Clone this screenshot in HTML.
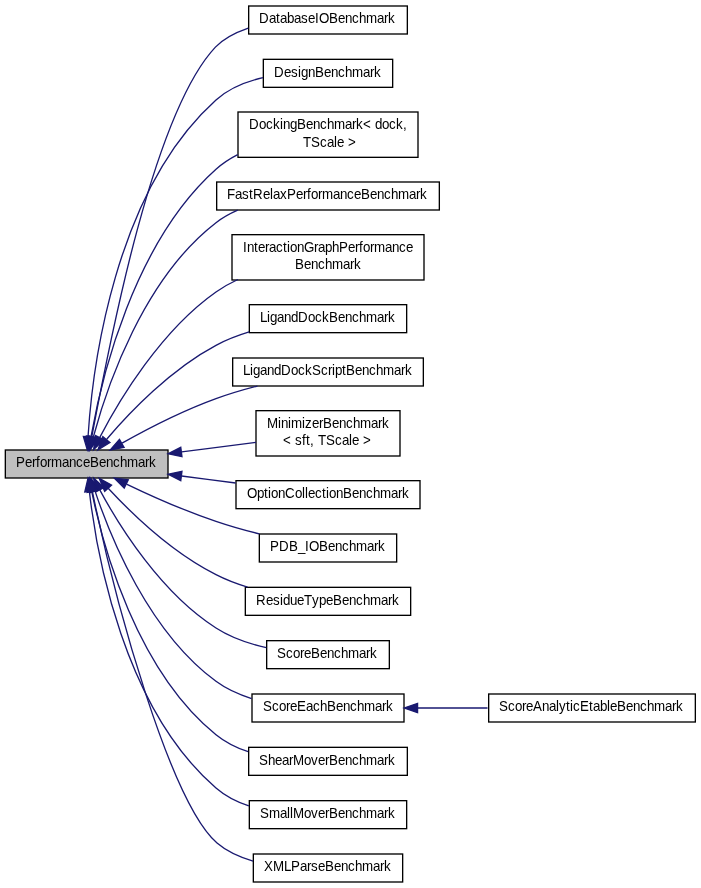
<!DOCTYPE html>
<html lang="en">
<head>
<meta charset="utf-8">
<title>PerformanceBenchmark</title>
<style>
html,body{margin:0;padding:0;background:#fff;}
body{width:701px;height:888px;overflow:hidden;}
svg{display:block;will-change:transform;}
text{font-family:"Liberation Sans",sans-serif;font-size:13.9px;fill:#000;white-space:pre;}
.n{stroke:#000;stroke-width:1.3333;}
.e{fill:none;stroke:#191970;stroke-width:1.3333;}
.a{fill:#191970;stroke:#191970;stroke-width:1.3333;}
</style>
</head>
<body>
<svg width="701" height="888" viewBox="0 0 701 888">
<rect width="701" height="888" fill="#fff"/>
<rect class="n" x="5.33" y="450" width="162.67" height="28" fill="#bfbfbf"/>
<rect class="n" x="248.67" y="6" width="158.67" height="28" fill="#fff"/>
<rect class="n" x="263.33" y="59.33" width="129.33" height="28" fill="#fff"/>
<rect class="n" x="238" y="112" width="180" height="45.33" fill="#fff"/>
<rect class="n" x="216.67" y="182" width="222.67" height="28" fill="#fff"/>
<rect class="n" x="232" y="234.67" width="192" height="45.33" fill="#fff"/>
<rect class="n" x="249.33" y="304.67" width="157.33" height="28" fill="#fff"/>
<rect class="n" x="232.67" y="358" width="190.67" height="28" fill="#fff"/>
<rect class="n" x="256" y="410.67" width="144" height="45.33" fill="#fff"/>
<rect class="n" x="236" y="480.67" width="184" height="28" fill="#fff"/>
<rect class="n" x="259.33" y="534" width="137.33" height="28" fill="#fff"/>
<rect class="n" x="245.33" y="587.33" width="165.33" height="28" fill="#fff"/>
<rect class="n" x="266.67" y="640.67" width="122.67" height="28" fill="#fff"/>
<rect class="n" x="252" y="694" width="152" height="28" fill="#fff"/>
<rect class="n" x="248.67" y="747.33" width="158.67" height="28" fill="#fff"/>
<rect class="n" x="249.33" y="800.67" width="157.33" height="28" fill="#fff"/>
<rect class="n" x="253.33" y="854" width="149.33" height="28" fill="#fff"/>
<rect class="n" x="488.67" y="694" width="206.67" height="28" fill="#fff"/>
<path class="e" d="M91.76,436.9C110.46,337.38 153.46,112.95 215.42,47.1C224.07,37.91 236.41,32.17 248.27,28.07"/>
<polygon class="a" points="87.17,436.03 89.3,450 96.35,437.76"/>
<path class="e" d="M88.05,436.45C92.41,368.47 114,191.63 216,100C228.91,88.35 246.01,81.55 262.92,77.65"/>
<polygon class="a" points="92.69,436.87 87.31,449.92 83.37,436.36"/>
<path class="e" d="M91.02,436.65C101.18,378.76 133.41,243.08 216,169.33C222.44,163.55 229.84,158.72 237.69,154.71"/>
<polygon class="a" points="95.61,437.52 88.83,449.92 86.39,436"/>
<path class="e" d="M93.41,436.79C106.91,386.37 143.49,278.49 216,222.67C222.56,217.57 229.95,213.44 237.71,210.08"/>
<polygon class="a" points="97.86,438.17 90.05,449.93 88.82,435.87"/>
<path class="e" d="M99.66,437.65C119.27,399.91 160.88,330.73 216,292C222.73,287.23 230.15,283.08 237.85,279.51"/>
<polygon class="a" points="103.81,439.79 93.63,449.59 95.49,435.59"/>
<path class="e" d="M106.7,439.24C129.78,412.07 171.05,369.13 216,345.33C226.28,339.83 237.69,335.44 249.19,331.95"/>
<polygon class="a" points="110.02,442.55 97.91,449.83 102.83,436.59"/>
<path class="e" d="M122.05,443.2C147.21,429.04 182.82,410.73 216,398.67C229.16,393.8 243.53,389.59 257.44,386.03"/>
<polygon class="a" points="124.09,447.41 110.21,449.99 119.46,439.31"/>
<path class="e" d="M181.68,451.96C206.4,448.79 232.67,445.41 255.95,442.41"/>
<polygon class="a" points="181.96,456.63 168.13,453.71 180.76,447.37"/>
<path class="e" d="M181.55,476.03C199.33,478.31 217.92,480.69 235.63,482.97"/>
<polygon class="a" points="180.76,480.63 168.13,474.29 181.96,471.37"/>
<path class="e" d="M126.5,484.03C151.41,496.04 185.04,510.96 216,521.33C229.84,526.05 244.93,530.28 259.39,533.89"/>
<polygon class="a" points="124.19,488.09 114.27,478.04 128.3,479.71"/>
<path class="e" d="M108.17,488.25C131.75,513.6 172.7,552.69 216,574.67C225.84,579.72 236.68,583.84 247.6,587.2"/>
<polygon class="a" points="104.66,491.32 99.14,478.31 111.55,485.04"/>
<path class="e" d="M99.91,490.08C119.62,526.75 161.09,592.99 216,628C230.95,637.63 249.07,643.79 266.28,647.72"/>
<polygon class="a" points="95.66,492 93.63,478.01 103.94,487.68"/>
<path class="e" d="M95.07,491.12C110.53,537.59 149.12,632.2 216,681.33C226.48,689.09 238.92,694.63 251.6,698.56"/>
<polygon class="a" points="90.61,492.47 90.99,478.33 99.49,489.63"/>
<path class="e" d="M91.82,491.79C103.11,547 136.77,670.68 216,734.67C225.35,742.27 236.53,747.77 248.13,751.73"/>
<polygon class="a" points="87.19,492.41 89.25,478.43 96.35,490.64"/>
<path class="e" d="M89.43,491.89C96.71,554.81 123.94,708.47 216,788C225.4,796.17 236.87,801.93 248.83,805.97"/>
<polygon class="a" points="84.75,492.03 88.01,478.27 94.05,491.05"/>
<path class="e" d="M92.28,491.06C115.56,604.57 170.55,802.97 217.03,843.04C227.67,852.22 239.22,856.99 253.05,861.17"/>
<polygon class="a" points="96.85,490.12 89.6,478 87.71,492"/>
<path class="e" d="M417.89,708C440.27,708 464.49,708 487.53,708"/>
<polygon class="a" points="417.56,712.67 404.23,708 417.56,703.33"/>
<g transform="scale(0.96 1)">
<text x="16.667 26.042 33.333 37.5 41.667 48.958 53.125 64.583 71.875 79.167 86.458 93.75 103.125 110.417 117.708 125 132.292 143.75 151.042 155.208" y="467">PerformanceBenchmark</text>
<text x="269.792 280.208 287.5 291.667 298.958 306.25 313.542 320.833 328.125 332.292 342.708 352.083 359.375 366.667 373.958 381.25 392.708 400 404.167" y="23">DatabaseIOBenchmark</text>
<text x="285.417 295.833 303.125 310.417 313.542 320.833 328.125 337.5 344.792 352.083 359.375 366.667 378.125 385.417 389.583" y="77">DesignBenchmark</text>
<text x="259.375 269.792 277.083 284.375 291.667 294.792 302.083 309.375 318.75 326.042 333.333 340.625 347.917 359.375 366.667 370.833 378.125 386.458 390.625 397.917 405.208 412.5 419.792" y="129">DockingBenchmark&lt; dock,</text>
<text x="315.625 323.958 333.333 340.625 347.917 351.042 358.333 362.5" y="147">TScale &gt;</text>
<text x="236.458 244.792 252.083 259.375 263.542 273.958 281.25 284.375 291.667 298.958 308.333 315.625 319.792 323.958 331.25 335.417 346.875 354.167 361.458 368.75 376.042 385.417 392.708 400 407.292 414.583 426.042 433.333 437.5" y="199">FastRelaxPerformanceBenchmark</text>
<text x="253.125 257.292 264.583 268.75 276.042 280.208 287.5 294.792 298.958 302.083 309.375 316.667 327.083 331.25 338.542 345.833 353.125 362.5 369.792 373.958 378.125 385.417 389.583 401.042 408.333 415.625 422.917" y="252">InteractionGraphPerformance</text>
<text x="307.292 316.667 323.958 331.25 338.542 345.833 357.292 364.583 368.75" y="269">Benchmark</text>
<text x="270.833 278.125 281.25 288.542 295.833 303.125 310.417 320.833 328.125 335.417 342.708 352.083 359.375 366.667 373.958 381.25 392.708 400 404.167" y="322">LigandDockBenchmark</text>
<text x="253.125 260.417 263.542 270.833 278.125 285.417 292.708 303.125 310.417 317.708 325 334.375 341.667 345.833 348.958 356.25 360.417 369.792 377.083 384.375 391.667 398.958 410.417 417.708 421.875" y="375">LigandDockScriptBenchmark</text>
<text x="278.125 289.583 292.708 300 303.125 314.583 317.708 325 332.292 336.458 345.833 353.125 360.417 367.708 375 386.458 393.75 397.917" y="428">MinimizerBenchmark</text>
<text x="294.792 303.125 307.292 314.583 318.75 322.917 327.083 331.25 339.583 348.958 356.25 363.542 366.667 373.958 378.125" y="445">&lt; sft, TScale &gt;</text>
<text x="257.292 267.708 275 279.167 282.292 289.583 296.875 307.292 314.583 317.708 320.833 328.125 335.417 339.583 342.708 350 357.292 366.667 373.958 381.25 388.542 395.833 407.292 414.583 418.75" y="498">OptionCollectionBenchmark</text>
<text x="281.25 290.625 301.042 310.417 317.708 321.875 332.292 341.667 348.958 356.25 363.542 370.833 382.292 389.583 393.75" y="551">PDB_IOBenchmark</text>
<text x="266.667 277.083 284.375 291.667 294.792 302.083 309.375 316.667 325 332.292 339.583 346.875 356.25 363.542 370.833 378.125 385.417 396.875 404.167 408.333" y="605">ResidueTypeBenchmark</text>
<text x="288.542 297.917 305.208 312.5 316.667 323.958 333.333 340.625 347.917 355.208 362.5 373.958 381.25 385.417" y="658">ScoreBenchmark</text>
<text x="273.958 283.333 290.625 297.917 302.083 309.375 318.75 326.042 333.333 340.625 350 357.292 364.583 371.875 379.167 390.625 397.917 402.083" y="711">ScoreEachBenchmark</text>
<text x="269.792 279.167 286.458 293.75 301.042 305.208 316.667 323.958 331.25 338.542 342.708 352.083 359.375 366.667 373.958 381.25 392.708 400 404.167" y="765">ShearMoverBenchmark</text>
<text x="270.833 280.208 291.667 298.958 302.083 305.208 316.667 323.958 331.25 338.542 342.708 352.083 359.375 366.667 373.958 381.25 392.708 400 404.167" y="818">SmallMoverBenchmark</text>
<text x="275 284.375 295.833 303.125 312.5 319.792 323.958 331.25 338.542 347.917 355.208 362.5 369.792 377.083 388.542 395.833 400" y="871">XMLParseBenchmark</text>
<text x="519.792 529.167 536.458 543.75 547.917 555.208 564.583 571.875 579.167 582.292 589.583 593.75 596.875 604.167 613.542 617.708 625 632.292 635.417 642.708 652.083 659.375 666.667 673.958 681.25 692.708 700 704.167" y="711">ScoreAnalyticEtableBenchmark</text>
</g>
</svg>
</body>
</html>
